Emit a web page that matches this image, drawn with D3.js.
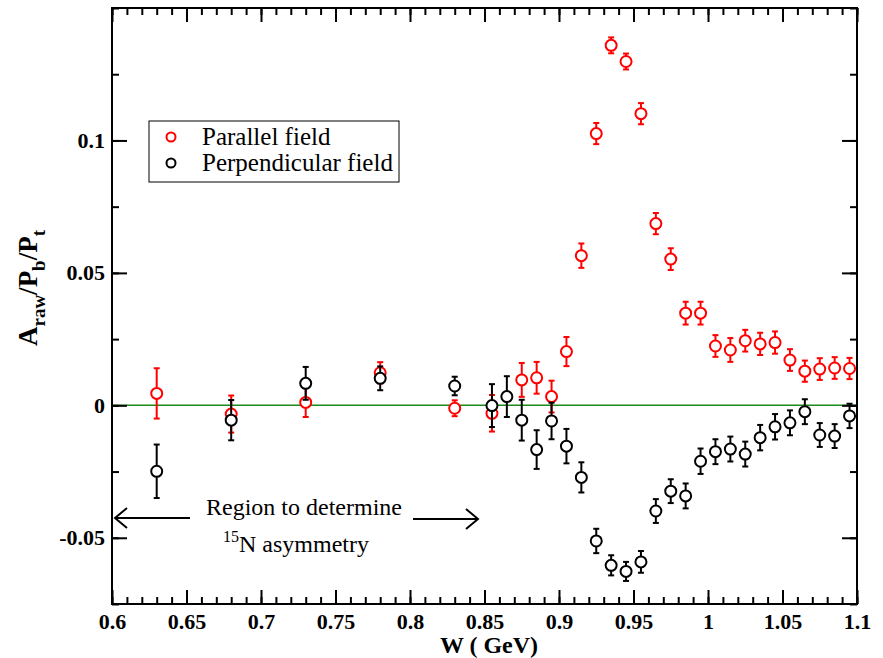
<!DOCTYPE html>
<html>
<head>
<meta charset="utf-8">
<script src="https://cdn.jsdelivr.net/npm/d3@7"></script>
<style>
  body { margin: 0; background: #fff; }
  svg text { font-family: "Liberation Serif", "Times New Roman", "DejaVu Serif", serif; }
</style>
</head>
<body>
<svg id="chart" width="883" height="658"></svg>
<script>
// Parallel field
var wPar = [0.63, 0.68, 0.73, 0.78, 0.83, 0.855, 0.875, 0.885, 0.895, 0.905, 0.915, 0.925, 0.935, 0.945, 0.955,
            0.965, 0.975, 0.985, 0.995, 1.005, 1.015, 1.025, 1.035, 1.045, 1.055, 1.065, 1.075, 1.085, 1.095];
var aPar = [0.0045, -0.0033, 0.0011, 0.0123, -0.0011, -0.003, 0.0096, 0.0104, 0.0033, 0.0203, 0.0565, 0.1026, 0.1359, 0.1298, 0.1101,
            0.0686, 0.0552, 0.0348, 0.0348, 0.0224, 0.0209, 0.0244, 0.0232, 0.0237, 0.0171, 0.0129, 0.0137, 0.0141, 0.0139];
var ePar = [0.0095, 0.007, 0.0055, 0.004, 0.003, 0.0069, 0.0064, 0.006, 0.006, 0.0055, 0.0046, 0.004, 0.003, 0.003, 0.004,
            0.004, 0.0041, 0.0043, 0.0043, 0.0041, 0.0045, 0.0041, 0.0042, 0.0042, 0.0041, 0.004, 0.0041, 0.0041, 0.004];

// Perpendicular field
var wPerp = [0.63, 0.68, 0.73, 0.78, 0.83, 0.855, 0.865, 0.875, 0.885, 0.895, 0.905, 0.915, 0.925, 0.935, 0.945, 0.955,
             0.965, 0.975, 0.985, 0.995, 1.005, 1.015, 1.025, 1.035, 1.045, 1.055, 1.065, 1.075, 1.085, 1.095];
var aPerp = [-0.0249, -0.0056, 0.0083, 0.0102, 0.0073, -0.0001, 0.0033, -0.0056, -0.0167, -0.0059, -0.0154, -0.0272, -0.0512, -0.0604, -0.0627, -0.0591,
             -0.0399, -0.0324, -0.0342, -0.0211, -0.0175, -0.0165, -0.0184, -0.0122, -0.0081, -0.0066, -0.0024, -0.0112, -0.0116, -0.004];
var ePerp = [0.0101, 0.0076, 0.0062, 0.0045, 0.0035, 0.0081, 0.0077, 0.0077, 0.0073, 0.0069, 0.0065, 0.0057, 0.0046, 0.0038, 0.0036, 0.0041,
             0.0045, 0.0045, 0.0047, 0.0048, 0.0047, 0.0047, 0.0047, 0.0048, 0.0048, 0.0047, 0.0047, 0.0045, 0.0045, 0.0046];

var xTicks = [0.6, 0.65, 0.7, 0.75, 0.8, 0.85, 0.9, 0.95, 1.0, 1.05, 1.1];
var yTicks = [-0.05, 0, 0.05, 0.1];
var legendNames = ["Parallel field", "Perpendicular field"];

var SERIF = "'Liberation Serif', 'Times New Roman', 'DejaVu Serif', serif";

var svg = d3.select("#chart").attr("font-family", SERIF);
var m = {left: 112, right: 857, top: 8, bottom: 604};

var x = d3.scaleLinear().domain([0.6, 1.1]).range([m.left, m.right]);
var y = d3.scaleLinear().domain([-0.075, 0.15]).range([m.bottom, m.top]);

var fmt = function(d){ return String(+d.toFixed(3)); };
var xMinor = d3.range(0, 51).map(function(i){ return +(0.6 + i * 0.01).toFixed(3); });
var yMinor = d3.range(0, 10).map(function(i){ return +(-0.075 + i * 0.025).toFixed(3); });

// zero line
svg.append("line")
    .attr("x1", x(0.6)).attr("x2", x(1.1))
    .attr("y1", y(0)).attr("y2", y(0))
    .attr("stroke", "#1a8a1a").attr("stroke-width", 1.5);

// axes: inward ticks on all four sides
function styleAxis(g, labels) {
    g.attr("font-family", SERIF);
    g.select(".domain").remove();
    g.selectAll(".tick line").attr("stroke", "#000").attr("stroke-width", 2);
    g.selectAll("text")
        .attr("font-family", SERIF)
        .attr("font-weight", "bold")
        .attr("font-size", 22)
        .attr("fill", "#000")
        .style("display", labels ? null : "none");
}

svg.append("g").attr("transform", "translate(0," + m.bottom + ")")
    .call(d3.axisBottom(x).tickValues(xMinor).tickSize(-7).tickFormat(""))
    .call(styleAxis, false);
svg.append("g").attr("transform", "translate(0," + m.bottom + ")")
    .call(d3.axisBottom(x).tickValues(xTicks).tickSize(-14).tickPadding(9).tickFormat(fmt))
    .call(styleAxis, true);
svg.append("g").attr("transform", "translate(0," + m.top + ")")
    .call(d3.axisTop(x).tickValues(xMinor).tickSize(-7).tickFormat(""))
    .call(styleAxis, false);
svg.append("g").attr("transform", "translate(0," + m.top + ")")
    .call(d3.axisTop(x).tickValues(xTicks).tickSize(-14).tickFormat(""))
    .call(styleAxis, false);

svg.append("g").attr("transform", "translate(" + m.left + ",0)")
    .call(d3.axisLeft(y).tickValues(yMinor).tickSize(-7).tickFormat(""))
    .call(styleAxis, false);
svg.append("g").attr("transform", "translate(" + m.left + ",0)")
    .call(d3.axisLeft(y).tickValues(yTicks).tickSize(-15).tickPadding(7).tickFormat(fmt))
    .call(styleAxis, true);
svg.append("g").attr("transform", "translate(" + m.right + ",0)")
    .call(d3.axisRight(y).tickValues(yMinor).tickSize(-7).tickFormat(""))
    .call(styleAxis, false);
svg.append("g").attr("transform", "translate(" + m.right + ",0)")
    .call(d3.axisRight(y).tickValues(yTicks).tickSize(-15).tickFormat(""))
    .call(styleAxis, false);

// frame
svg.append("rect")
    .attr("x", m.left).attr("y", m.top)
    .attr("width", m.right - m.left).attr("height", m.bottom - m.top)
    .attr("fill", "none").attr("stroke", "#000").attr("stroke-width", 2);

// data series
function drawSeries(ws, as, es, color) {
    var data = ws.map(function(w, i){ return {w: w, a: as[i], e: es[i]}; });
    var g = svg.append("g");
    var pts = g.selectAll("g").data(data).enter().append("g");
    pts.append("line")
        .attr("x1", function(d){ return x(d.w); }).attr("x2", function(d){ return x(d.w); })
        .attr("y1", function(d){ return y(d.a - d.e); }).attr("y2", function(d){ return y(d.a + d.e); })
        .attr("stroke", color).attr("stroke-width", 2);
    [-1, 1].forEach(function(s){
        pts.append("line")
            .attr("x1", function(d){ return x(d.w) - 3; }).attr("x2", function(d){ return x(d.w) + 3; })
            .attr("y1", function(d){ return y(d.a + s * d.e); }).attr("y2", function(d){ return y(d.a + s * d.e); })
            .attr("stroke", color).attr("stroke-width", 2);
    });
    pts.append("circle")
        .attr("cx", function(d){ return x(d.w); })
        .attr("cy", function(d){ return y(d.a); })
        .attr("r", 5.5)
        .attr("fill", "#fff").attr("stroke", color).attr("stroke-width", 2);
}
drawSeries(wPar, aPar, ePar, "#ff0000");
drawSeries(wPerp, aPerp, ePerp, "#000000");

// legend
var leg = svg.append("g");
leg.append("rect").attr("x", 149).attr("y", 121).attr("width", 250).attr("height", 61)
    .attr("fill", "#fff").attr("stroke", "#000").attr("stroke-width", 1);
[["#ff0000", 137], ["#000000", 163]].forEach(function(c, i){
    leg.append("circle").attr("cx", 171).attr("cy", c[1]).attr("r", 4.5)
        .attr("fill", "none").attr("stroke", c[0]).attr("stroke-width", 2);
    leg.append("text").attr("x", 202).attr("y", c[1] + 8)
        .attr("font-family", SERIF)
        .attr("font-size", 25).attr("fill", "#000").text(legendNames[i]);
});

// axis titles
svg.append("text")
    .attr("x", 489).attr("y", 653)
    .attr("text-anchor", "middle")
    .attr("font-family", SERIF)
    .attr("font-size", 24).attr("font-weight", "bold")
    .text("W ( GeV)");

var yt = svg.append("text")
    .attr("transform", "translate(37,288) rotate(-90)")
    .attr("text-anchor", "middle")
    .attr("font-family", SERIF)
    .attr("font-size", 27).attr("font-weight", "bold");
yt.append("tspan").text("A");
yt.append("tspan").attr("font-size", 19).attr("dy", 8).text("raw");
yt.append("tspan").attr("dy", -8).text("/P");
yt.append("tspan").attr("font-size", 19).attr("dy", 8).text("b");
yt.append("tspan").attr("dy", -8).text("/P");
yt.append("tspan").attr("font-size", 19).attr("dy", 8).text("t");

// annotation
svg.append("text").attr("x", 304).attr("y", 515)
    .attr("text-anchor", "middle").attr("font-size", 24)
    .attr("font-family", SERIF)
    .text("Region to determine");
var t2 = svg.append("text").attr("x", 296).attr("y", 552)
    .attr("text-anchor", "middle").attr("font-size", 24)
    .attr("font-family", SERIF);
t2.append("tspan").attr("font-size", 16).attr("dy", -10).text("15");
t2.append("tspan").attr("dy", 10).text("N asymmetry");

function arrow(x1, x2, yy) {
    var dir = x2 > x1 ? -1 : 1;
    svg.append("line").attr("x1", x1).attr("x2", x2).attr("y1", yy).attr("y2", yy)
        .attr("stroke", "#000").attr("stroke-width", 2);
    svg.append("path")
        .attr("d", "M" + (x2 + dir * 12) + "," + (yy - 10) + "L" + x2 + "," + yy + "L" + (x2 + dir * 12) + "," + (yy + 10))
        .attr("fill", "none").attr("stroke", "#000").attr("stroke-width", 2);
}
arrow(190, 115, 518);
arrow(413, 478, 519);
</script>
</body>
</html>
